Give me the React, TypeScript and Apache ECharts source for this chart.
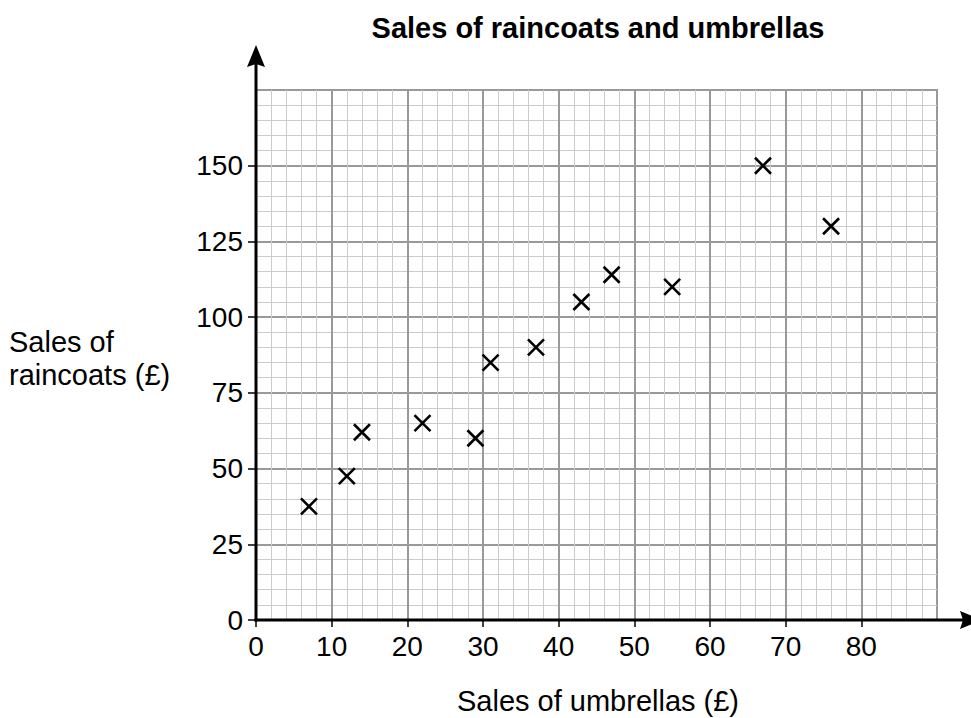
import React, { useEffect, useRef } from "react";
import * as echarts from "echarts";

const title = "Sales of raincoats and umbrellas";
const xAxisName = "Sales of umbrellas (£)";
const yAxisNameLines = ["Sales of", "raincoats (£)"];
const umbrellas = [7, 12, 14, 22, 29, 31, 37, 43, 47, 55, 67, 76];
const raincoats = [37.5, 47.5, 62, 65, 60, 85, 90, 105, 114, 110, 150, 130];
const xMax = 90;
const yMax = 175;
const xTickValues = [0, 10, 20, 30, 40, 50, 60, 70, 80];
const yTickValues = [0, 25, 50, 75, 100, 125, 150];

export default function App() {
  const ref = useRef<HTMLDivElement>(null);
  useEffect(() => {
    if (!ref.current) return;
    const chart = echarts.init(ref.current, null, { renderer: "svg" });
    const L = 256, T = 90, W = 681, H = 530;
    const B = T + H;
    const font = "Liberation Sans, Arial, sans-serif";
    const xLabelMax = xTickValues[xTickValues.length - 1];
    const yLabelMax = yTickValues[yTickValues.length - 1];
    chart.setOption({
      animation: false,
      backgroundColor: "#fff",
      grid: { left: L, top: T, width: W, height: H, show: true, borderColor: "#999999", borderWidth: 2, backgroundColor: "transparent" },
      xAxis: {
        type: "value",
        min: 0,
        max: xMax,
        interval: 10,
        axisLine: { show: false },
        axisTick: { show: true, length: 7, customValues: xTickValues, lineStyle: { color: "#000", width: 1.5 } },
        axisLabel: {
          fontFamily: font,
          fontSize: 28,
          lineHeight: 28,
          color: "#000",
          margin: 12,
          formatter: (v: number) => (v > xLabelMax ? "" : String(v)),
        },
        splitLine: { show: true, lineStyle: { color: "#999999", width: 2 } },
        minorTick: { show: false, splitNumber: 5 },
        minorSplitLine: { show: true, lineStyle: { color: "#cccccc", width: 1 } },
      },
      yAxis: {
        type: "value",
        min: 0,
        max: yMax,
        interval: 25,
        axisLine: { show: false },
        axisTick: { show: true, length: 8, customValues: yTickValues, lineStyle: { color: "#000", width: 1.5 } },
        axisLabel: {
          fontFamily: font,
          fontSize: 28,
          color: "#000",
          margin: 13,
          formatter: (v: number) => (v > yLabelMax ? "" : String(v)),
        },
        splitLine: { show: true, lineStyle: { color: "#999999", width: 2 } },
        minorTick: { show: false, splitNumber: 5 },
        minorSplitLine: { show: true, lineStyle: { color: "#cccccc", width: 1 } },
      },
      graphic: [
        { type: "line", shape: { x1: L, y1: B + 1.5, x2: L, y2: 62 }, style: { stroke: "#000", lineWidth: 3 }, z: 100 },
        { type: "polygon", shape: { points: [[L, 45], [L - 9, 67], [L, 64], [L + 9, 67]] }, style: { fill: "#000" }, z: 100 },
        { type: "line", shape: { x1: L - 1.5, y1: B, x2: 964, y2: B }, style: { stroke: "#000", lineWidth: 3 }, z: 100 },
        { type: "polygon", shape: { points: [[982, B], [960, B - 9], [963, B], [960, B + 9]] }, style: { fill: "#000" }, z: 100 },
        {
          type: "text",
          x: 598,
          y: 28,
          style: {
            text: title,
            fontFamily: font,
            fontSize: 29,
            fontWeight: "bold",
            fill: "#000",
            align: "center",
            verticalAlign: "middle",
          },
        },
        {
          type: "text",
          x: 598,
          y: 701,
          style: { text: xAxisName, fontFamily: font, fontSize: 29, fill: "#000", align: "center", verticalAlign: "middle" },
        },
        {
          type: "text",
          x: 9,
          y: 342,
          style: { text: yAxisNameLines[0], fontFamily: font, fontSize: 29, fill: "#000", align: "left", verticalAlign: "middle" },
        },
        {
          type: "text",
          x: 9,
          y: 375,
          style: { text: yAxisNameLines[1], fontFamily: font, fontSize: 29, fill: "#000", align: "left", verticalAlign: "middle" },
        },
      ],
      series: [
        {
          type: "scatter",
          data: umbrellas.map((x, i) => [x, raincoats[i]]),
          symbol: "path://M0,0L10,10M10,0L0,10",
          symbolSize: 16,
          itemStyle: { color: "none", borderColor: "#000", borderWidth: 2.6, opacity: 1 },
          z: 10,
        },
      ],
    });
    return () => chart.dispose();
  }, []);
  return <div ref={ref} style={{ position: "fixed", left: 0, top: 0, width: 971, height: 718 }} />;
}
